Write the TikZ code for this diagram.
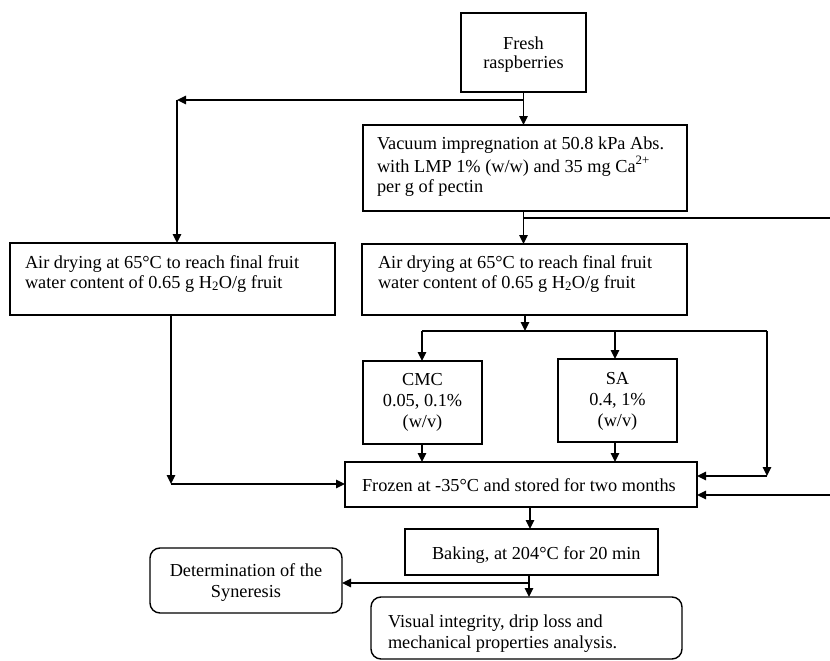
\documentclass[tikz,border=0pt]{standalone}
\usepackage{fontspec}
\setmainfont{Liberation Serif}
\usetikzlibrary{arrows.meta}
\begin{document}
\begin{tikzpicture}[x=1pt,y=-1pt,
  box/.style={draw, line width=1.4pt, inner sep=0pt, outer sep=0pt, anchor=north west},
  rbox/.style={box, rounded corners=10pt},
  link/.style={line width=1.4pt},
  arr/.style={link, -{Triangle[length=9pt,width=8.5pt]}},
  txt/.style={inner sep=0pt, outer sep=0pt, font=\fontsize{18.3}{#1}\selectfont},
]
\useasboundingbox (0,0) rectangle (830,661);

% boxes
\node[box, minimum width=125pt, minimum height=79pt] (fresh) at (461,13) {};
\node[box, minimum width=324pt, minimum height=86pt] (vac) at (363,125) {};
\node[box, minimum width=325pt, minimum height=72pt] (airL) at (10,243) {};
\node[box, minimum width=325pt, minimum height=71pt] (airM) at (362,244) {};
\node[box, minimum width=119pt, minimum height=83pt] (cmc) at (363,361) {};
\node[box, minimum width=119pt, minimum height=83pt] (sa) at (558,359) {};
\node[box, minimum width=352pt, minimum height=45pt] (frozen) at (345,462) {};
\node[box, minimum width=253pt, minimum height=46pt] (baking) at (405,529) {};
\node[rbox, minimum width=192pt, minimum height=65pt] (det) at (150,548) {};
\node[rbox, minimum width=311pt, minimum height=62pt] (vis) at (371,597) {};

% texts
\node[txt=20, align=center, anchor=north] (freshT) at (523.5,35) {\strut Fresh\\\strut raspberries};
\node[txt=19.5, align=left, anchor=north west] (vacT) at (377,135.35) {\strut Vacuum impregnation at 50.8 kPa Abs.\\\strut with LMP 1\% (w/w) and 35 mg Ca\raisebox{2pt}{\textsuperscript{2+}}\\\strut per g of pectin};
\node[txt=20, align=left, anchor=north west] (airLT) at (25,254) {\strut Air drying at 65°C to reach final fruit\\\strut water content of 0.65 g H\textsubscript{2}O/g fruit};
\node[txt=20, align=left, anchor=north west] (airMT) at (378,254) {\strut Air drying at 65°C to reach final fruit\\\strut water content of 0.65 g H\textsubscript{2}O/g fruit};
\node[txt=21, align=center, anchor=north] (cmcT) at (422.5,370.8) {\strut CMC\\\strut 0.05, 0.1\%\\\strut (w/v)};
\node[txt=21, align=center, anchor=north] (saT) at (617.5,369.8) {\strut SA\\\strut 0.4, 1\%\\\strut (w/v)};
\node[txt=20, anchor=base west] (frozenT) at (362,491) {Frozen at -35°C and stored for two months};
\node[txt=20, anchor=base west] (bakingT) at (432,559) {Baking, at 204°C for 20 min};
\node[txt=21, align=center, anchor=north] (detT) at (246,561.3) {\strut Determination of the\\\strut Syneresis};
\node[txt=21, align=left, anchor=north west] (visT) at (388,612.3) {\strut Visual integrity, drip loss and\\\strut mechanical properties analysis.};

% connectors
\coordinate (j1) at (523.5,100);
\coordinate (l1) at (177,100);
\coordinate (rr) at (830,218);
\coordinate (lb) at (171,484);
\coordinate (b1) at (525,331);
\coordinate (bL) at (422,331);
\coordinate (bS) at (615,331);
\coordinate (bR) at (767,331);
\coordinate (rc) at (767,476);
\coordinate (re) at (830,495);
\coordinate (c5) at (530,518);
\coordinate (c6) at (529,583);

\draw[arr] (fresh.south) -- (fresh.south |- vac.north);
\draw[arr] (j1) -- (l1);
\draw[arr] (l1) -- (l1 |- airL.north);
\draw[arr] (vac.south -| j1) -- (j1 |- airM.north);
\draw[link] (j1 |- rr) -- (rr);
\draw[arr] (airL.south -| lb) -- (lb);
\draw[arr] (lb) -- (lb -| frozen.west);
\draw[arr] (airM.south -| b1) -- (b1);
\draw[link] (bL) -- (bR);
\draw[arr] (bL) -- (bL |- cmc.north);
\draw[arr] (bS) -- (bS |- sa.north);
\draw[arr] (bR) -- (rc);
\draw[arr] (rc) -- (rc -| frozen.east);
\draw[arr] (cmc.south -| bL) -- (bL |- frozen.north);
\draw[arr] (sa.south -| bS) -- (bS |- frozen.north);
\draw[arr] (re) -- (re -| frozen.east);
\draw[arr] (frozen.south -| c5) -- (c5 |- baking.north);
\draw[arr] (baking.south -| c6) -- (c6 |- vis.north);
\draw[arr] (c6) -- (c6 -| det.east);
\end{tikzpicture}
\end{document}
